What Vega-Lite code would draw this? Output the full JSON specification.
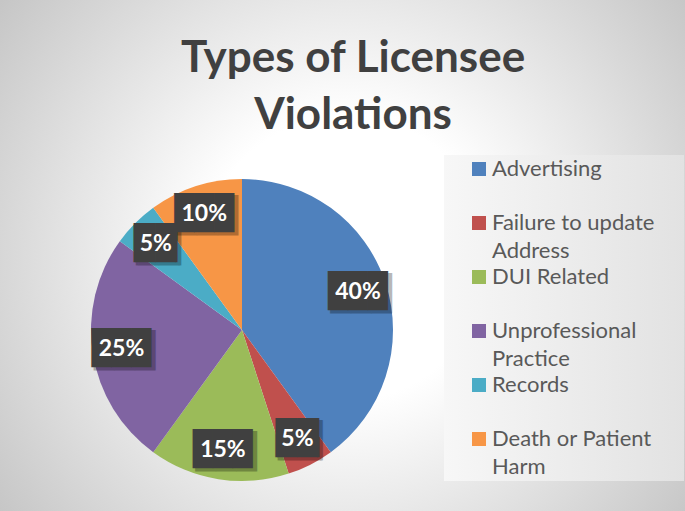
{
  "$schema": "https://vega.github.io/schema/vega-lite/v6.json",
  "width": 302,
  "height": 302,
  "autosize": {"type": "none"},
  "padding": {"left": 91, "top": 179, "right": 292, "bottom": 30},
  "background": "#ffffff",
  "title": {
    "text": ["Types of Licensee", "Violations"],
    "font": "Lato",
    "fontSize": 44,
    "fontWeight": "bold",
    "color": "#404040",
    "anchor": "middle",
    "frame": "group",
    "dx": 111,
    "offset": -428,
    "lineHeight": 57
  },
  "data": {
    "values": [
      {"type": "Advertising", "value": 0.40},
      {"type": "Failure to update Address", "value": 0.05},
      {"type": "DUI Related", "value": 0.15},
      {"type": "Unprofessional Practice", "value": 0.25},
      {"type": "Records", "value": 0.05},
      {"type": "Death or Patient Harm", "value": 0.10}
    ]
  },
  "transform": [{"window": [{"op": "row_number", "as": "rank"}]}],
  "layer": [
    {
      "data": {"values": [{}]},
      "mark": {
        "type": "arc",
        "theta": 0,
        "theta2": 6.2832,
        "outerRadius": 620,
        "fill": {
          "gradient": "radial",
          "x1": 0.584, "y1": 0.442, "r1": 0,
          "x2": 0.584, "y2": 0.442, "r2": 0.347,
          "stops": [
            {"offset": 0, "color": "#ffffff"},
            {"offset": 0.33, "color": "#ffffff"},
            {"offset": 1, "color": "#c6c6c6"}
          ]
        }
      },
      "encoding": {}
    },
    {
      "mark": {"type": "arc", "outerRadius": 151},
      "encoding": {
        "theta": {"field": "value", "type": "quantitative", "stack": true},
        "order": {"field": "rank", "type": "quantitative"},
        "color": {
          "field": "type",
          "type": "nominal",
          "sort": null,
          "scale": {"range": ["#4F81BD", "#C0504D", "#9BBB59", "#8064A2", "#4BACC6", "#F79646"]},
          "legend": {
            "orient": "none",
            "legendX": 353,
            "legendY": -24,
            "title": "\u00a0",
            "titleOrient": "right",
            "titlePadding": 27,
            "titleFontSize": 4,
            "padding": 3,
            "symbolOffset": 21,
            "symbolType": "square",
            "symbolSize": 196,
            "symbolStrokeWidth": 0,
            "labelFont": "Lato",
            "labelFontSize": 22,
            "labelColor": "#595959",
            "labelOffset": 2,
            "labelLimit": 400,
            "labelBaseline": "middle",
            "rowPadding": 4,
            "labelExpr": "datum.label == 'Failure to update Address' ? ['Failure to update', 'Address'] : datum.label == 'Unprofessional Practice' ? ['Unprofessional', 'Practice'] : datum.label == 'Death or Patient Harm' ? ['Death or Patient', 'Harm'] : [datum.label, '']",
            "encode": {
              "legend": {"update": {"fill": {"value": {"gradient": "linear", "x1": 0, "y1": 0, "x2": 1, "y2": 0, "stops": [{"offset": 0, "color": "#f7f7f7"}, {"offset": 1, "color": "#e2e2e2"}]}}}},
              "labels": {"update": {"lineHeight": {"value": 28}}}
            }
          }
        }
      }
    },
    {
      "mark": {"type": "text", "radius": 122, "font": "DejaVu Sans Mono", "fontSize": 34, "color": "#000000", "opacity": 0.28, "dx": 3, "dy": 3, "align": "center", "baseline": "middle"},
      "encoding": {
        "theta": {"field": "value", "type": "quantitative", "stack": true},
        "order": {"field": "rank", "type": "quantitative"},
        "detail": {"field": "type", "type": "nominal"},
        "text": {"condition": {"test": "datum.value < 0.1", "value": "▕██▏"}, "value": "███"}
      }
    },
    {
      "mark": {"type": "text", "radius": 122, "font": "DejaVu Sans Mono", "fontSize": 33, "color": "#404040", "align": "center", "baseline": "middle"},
      "encoding": {
        "theta": {"field": "value", "type": "quantitative", "stack": true},
        "order": {"field": "rank", "type": "quantitative"},
        "detail": {"field": "type", "type": "nominal"},
        "text": {"condition": {"test": "datum.value < 0.1", "value": "▕██▏"}, "value": "███"}
      }
    },
    {
      "mark": {"type": "text", "radius": 122, "font": "Lato", "fontSize": 23, "fontWeight": "bold", "color": "#ffffff", "align": "center", "baseline": "middle"},
      "encoding": {
        "theta": {"field": "value", "type": "quantitative", "stack": true},
        "order": {"field": "rank", "type": "quantitative"},
        "detail": {"field": "type", "type": "nominal"},
        "text": {"field": "value", "type": "quantitative", "format": ".0%"}
      }
    }
  ]
}
